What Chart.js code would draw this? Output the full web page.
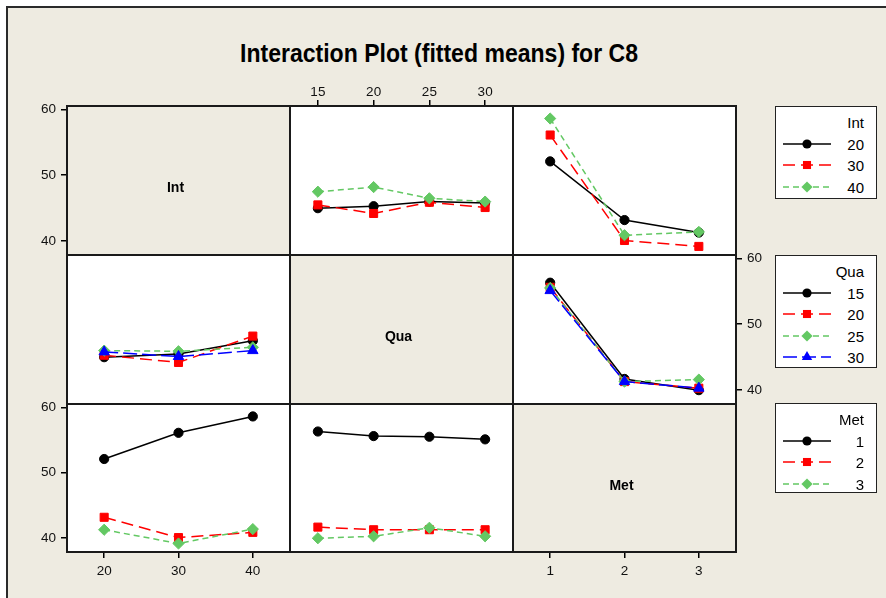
<!DOCTYPE html>
<html>
<head>
<meta charset="utf-8">
<script src="https://cdn.jsdelivr.net/npm/chart.js@4.4.1/dist/chart.umd.min.js"></script>
<style>
  body { margin: 0; width: 886px; height: 598px; overflow: hidden; position: relative; background: #fff;
         font-family: "Liberation Sans", Arial, sans-serif; }
  #frame { position: absolute; left: 6px; top: 6px; width: 900px; height: 620px; background: #eeebe1;
           border-left: 2px solid #2a2a2a; border-top: 2px solid #2a2a2a; }
  #title { position: absolute; left: -4px; top: 38px; width: 886px; text-align: center;
           font-weight: bold; font-size: 25px; line-height: 30px; color: #000; transform-origin: 443px 15px; }
  canvas { position: absolute; }
  .legend { position: absolute; left: 775px; width: 100px; background: #fff; border: 1.5px solid #222; }
  .legend span { position: absolute; right: 12px; font-size: 15px; line-height: 16px; color: #000; }
  .legend svg { position: absolute; left: 5px; }
</style>
</head>
<body>
<div id="frame"></div>
<div id="title">Interaction Plot (fitted means) for C8</div>

<script>
// factor levels
const intLevels = ['20', '30', '40'];
const quaLevels = ['15', '20', '25', '30'];
const metLevels = ['1', '2', '3'];
const yTicks = [40, 50, 60];
const yMin = 37.9;
const yMax = 60.5;

// fitted means: rows = Int level, columns = Qua level
const intQuaMeans = [
  [45.0, 45.3, 46.0, 45.8],
  [45.5, 44.2, 45.9, 45.1],
  [47.5, 48.2, 46.5, 46.0]
];
// rows = Int level, columns = Met level
const intMetMeans = [
  [52.1, 43.2, 41.3],
  [56.1, 40.1, 39.2],
  [58.6, 40.9, 41.4]
];
// rows = Qua level, columns = Met level
const quaMetMeans = [
  [56.3, 41.7, 40.0],
  [55.6, 41.3, 40.3],
  [55.5, 41.3, 41.6],
  [55.1, 41.3, 40.3]
];

// line / symbol per level number
const levelStyles = [
  { color: '#000000', dash: [], point: 'circle', radius: 4.6 },
  { color: '#ff0000', dash: [12, 6], point: 'rect', radius: 5.7 },
  { color: '#63c863', dash: [6, 4], point: 'rectRot', radius: 5.6 },
  { color: '#0000ff', dash: [14, 5], point: 'triangle', radius: 6 }
];

const colX = [67, 290, 513, 736];
const rowY = [106, 255, 404, 552];
const pad = 40;
const tickFont = { family: '"Liberation Sans", Arial, sans-serif', size: 13.5 };

function column(table, j) {
  return table.map(r => r[j]);
}

function series(levels, rows) {
  return levels.map((lv, i) => {
    const st = levelStyles[i];
    return {
      label: lv,
      data: rows[i],
      borderColor: st.color,
      backgroundColor: st.color,
      borderWidth: 1.5,
      borderDash: st.dash,
      pointStyle: st.point,
      pointRadius: st.radius,
      pointBorderWidth: 1,
      pointBackgroundColor: st.color,
      pointBorderColor: st.color,
      tension: 0,
      clip: false,
      order: -i
    };
  });
}

// white plot cell (or beige label cell) with a dark frame
const cellFrame = {
  id: 'cellFrame',
  beforeDraw(chart, args, opts) {
    const a = chart.chartArea, ctx = chart.ctx;
    ctx.save();
    ctx.fillStyle = opts.fill;
    ctx.fillRect(a.left, a.top, a.right - a.left, a.bottom - a.top);
    ctx.restore();
  },
  afterDraw(chart, args, opts) {
    const a = chart.chartArea, ctx = chart.ctx;
    ctx.save();
    ctx.strokeStyle = '#1a1a1a';
    ctx.lineWidth = 2;
    ctx.strokeRect(a.left, a.top, a.right - a.left, a.bottom - a.top);
    if (opts.label) {
      ctx.fillStyle = '#000';
      ctx.font = 'bold 14px "Liberation Sans", Arial, sans-serif';
      ctx.textAlign = 'center';
      ctx.textBaseline = 'middle';
      ctx.fillText(opts.label, (a.left + a.right) / 2 - 3, (a.top + a.bottom) / 2 + 8);
    }
    ctx.restore();
  }
};

function addPanel(row, col, opt) {
  const left = colX[col], top = rowY[row];
  const w = colX[col + 1] - left, h = rowY[row + 1] - top;
  const canvas = document.createElement('canvas');
  canvas.width = w + 2 * pad;
  canvas.height = h + 2 * pad;
  canvas.style.left = (left - pad) + 'px';
  canvas.style.top = (top - pad) + 'px';
  document.body.appendChild(canvas);
  // shown axes take the whole margin, hidden ones take nothing
  const fix = scale => {
    const size = scale.options.display ? pad : 0;
    if (scale.isHorizontal()) scale.height = size; else scale.width = size;
  };
  const axisGrid = { display: true, drawOnChartArea: false, drawTicks: true, tickLength: 6,
                     color: '#000', lineWidth: 1.5, offset: false };
  return new Chart(canvas, {
    type: 'line',
    data: { labels: opt.labels, datasets: opt.datasets || [] },
    options: {
      responsive: false,
      animation: false,
      devicePixelRatio: 1,
      layout: {
        autoPadding: false,
        padding: {
          left: opt.yPos === 'left' ? 0 : pad,
          right: opt.yPos === 'right' ? 0 : pad,
          top: opt.xPos === 'top' ? 0 : pad,
          bottom: opt.xPos === 'bottom' ? 0 : pad
        }
      },
      plugins: {
        legend: { display: false },
        tooltip: { enabled: false },
        cellFrame: { fill: opt.label ? '#eeebe1' : '#ffffff', label: opt.label }
      },
      scales: {
        x: {
          type: 'category',
          position: opt.xPos || 'bottom',
          display: !!opt.xPos,
          offset: true,
          afterFit: fix,
          grid: axisGrid,
          border: { display: false },
          ticks: { color: '#111', font: tickFont, padding: opt.xPos === 'top' ? 0 : 5,
                   maxRotation: 0, autoSkip: false }
        },
        y: {
          type: 'linear',
          position: opt.yPos || 'left',
          display: !!opt.yPos,
          min: yMin,
          max: yMax,
          afterBuildTicks: s => { s.ticks = yTicks.map(v => ({ value: v })); },
          afterFit: fix,
          grid: axisGrid,
          border: { display: false },
          ticks: { color: '#111', font: tickFont, padding: 5 }
        }
      }
    },
    plugins: [cellFrame]
  });
}

// row 1: lines for Int
addPanel(0, 0, { labels: intLevels, label: 'Int', yPos: 'left' });
addPanel(0, 1, { labels: quaLevels, xPos: 'top', datasets: series(intLevels, intQuaMeans) });
addPanel(0, 2, { labels: metLevels, datasets: series(intLevels, intMetMeans) });
// row 2: lines for Qua
addPanel(1, 0, { labels: intLevels, datasets: series(quaLevels, quaLevels.map((q, j) => column(intQuaMeans, j))) });
addPanel(1, 1, { labels: quaLevels, label: 'Qua' });
addPanel(1, 2, { labels: metLevels, yPos: 'right', datasets: series(quaLevels, quaMetMeans) });
// row 3: lines for Met
addPanel(2, 0, { labels: intLevels, xPos: 'bottom', yPos: 'left', datasets: series(metLevels, metLevels.map((m, k) => column(intMetMeans, k))) });
addPanel(2, 1, { labels: quaLevels, datasets: series(metLevels, metLevels.map((m, k) => column(quaMetMeans, k))) });
addPanel(2, 2, { labels: metLevels, label: 'Met', xPos: 'bottom' });

// legend boxes on the right
function symbolSvg(st) {
  const cx = 26, cy = 8, r = st.radius;
  let mark;
  if (st.point === 'circle') {
    mark = `<circle cx="${cx}" cy="${cy}" r="${r}" fill="${st.color}"/>`;
  } else if (st.point === 'rect') {
    const s = r * Math.SQRT1_2;
    mark = `<rect x="${cx - s}" y="${cy - s}" width="${2 * s}" height="${2 * s}" fill="${st.color}"/>`;
  } else if (st.point === 'rectRot') {
    mark = `<polygon points="${cx},${cy - r} ${cx + r},${cy} ${cx},${cy + r} ${cx - r},${cy}" fill="${st.color}"/>`;
  } else {
    const dx = r * Math.sin(Math.PI / 3), dy = r * 0.5;
    mark = `<polygon points="${cx},${cy - r} ${cx + dx},${cy + dy} ${cx - dx},${cy + dy}" fill="${st.color}"/>`;
  }
  return `<svg width="52" height="16" viewBox="0 0 52 16">` +
    `<line x1="2" y1="${cy}" x2="50" y2="${cy}" stroke="${st.color}" stroke-width="1.5" stroke-dasharray="${st.dash.join(' ') || 'none'}"/>` +
    mark + `</svg>`;
}

function addLegend(title, levels, top, height) {
  const box = document.createElement('div');
  box.className = 'legend';
  box.style.top = top + 'px';
  box.style.height = height + 'px';
  let html = `<span style="top:8px">${title}</span>`;
  levels.forEach((lv, i) => {
    const y = 30 + i * 21.3;
    html += symbolSvg(levelStyles[i]).replace('<svg ', `<svg style="top:${y - 1}px" `);
    html += `<span style="top:${y}px">${lv}</span>`;
  });
  box.innerHTML = html;
  document.body.appendChild(box);
}

addLegend('Int', intLevels, 106, 91);
addLegend('Qua', quaLevels, 255, 111);
addLegend('Met', metLevels, 403, 88);

// squeeze the heading to its narrow width
const titleEl = document.getElementById('title');
const mctx = document.createElement('canvas').getContext('2d');
mctx.font = 'bold 25px "Liberation Sans", Arial, sans-serif';
const tw = mctx.measureText(titleEl.textContent).width;
titleEl.style.transform = `scaleX(${398 / tw})`;
</script>
</body>
</html>
